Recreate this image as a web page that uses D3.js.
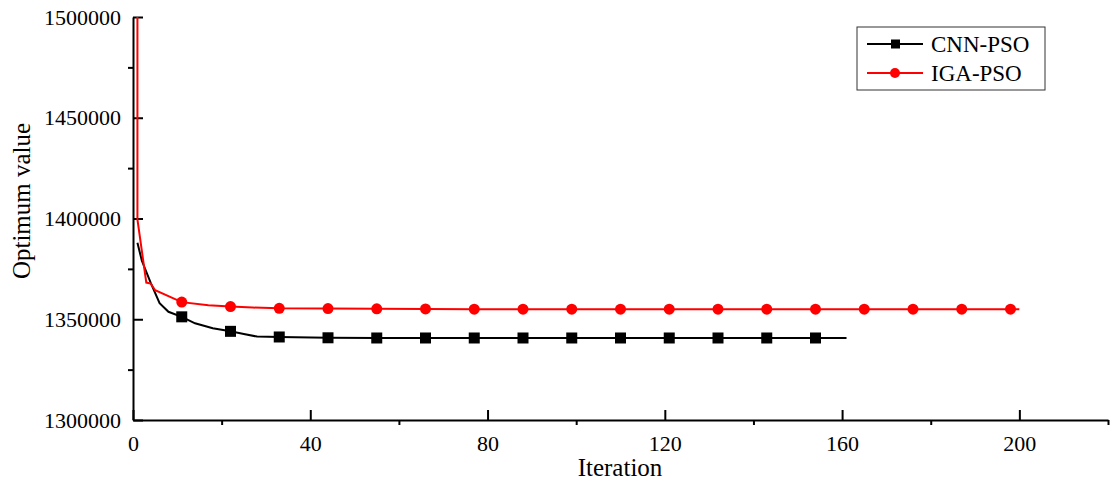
<!DOCTYPE html>
<html>
<head>
<meta charset="utf-8">
<script src="https://cdn.jsdelivr.net/npm/d3@7"></script>
<style>
  body { margin: 0; background: #fff; }
  text { font-family: "Liberation Serif", "Times New Roman", serif; fill: #000; }
</style>
</head>
<body>
<svg width="1111" height="483"></svg>
<script>
const svg = d3.select("svg");

// Curve vertices: [iteration, optimum value]
const cnnPso = [
    [1, 1388000], [2, 1379000], [4, 1368000], [6, 1358000], [8, 1353700],
    [11, 1351200], [14, 1348000], [18, 1345500], [22, 1344000], [25, 1342700],
    [28, 1341400], [33, 1341200], [44, 1340800], [55, 1340700], [66, 1340700],
    [77, 1340700], [88, 1340700], [99, 1340700], [110, 1340700], [121, 1340700],
    [132, 1340700], [143, 1340700], [154, 1340700], [161, 1340700]
];
const igaPso = [
    [1, 1500000], [1, 1399500], [3, 1368200], [4, 1367700], [5, 1364400],
    [11, 1358500], [17, 1357000], [22, 1356300], [27, 1355800], [33, 1355400],
    [44, 1355300], [55, 1355200], [66, 1355100], [77, 1355000], [88, 1355000],
    [99, 1355000], [110, 1355000], [121, 1355000], [132, 1355000], [143, 1355000],
    [154, 1355000], [165, 1355000], [176, 1355000], [187, 1355000], [198, 1355000],
    [200, 1355000]
];
const seriesNames = ["CNN-PSO", "IGA-PSO"];
const seriesColours = ["#000000", "#ff0000"];
const markerEvery = 11;

const xMajor = [0, 40, 80, 120, 160, 200];
const xMinor = [20, 60, 100, 140, 180, 220];
const yMajor = [1300000, 1350000, 1400000, 1450000, 1500000];
const yMinor = [1325000, 1375000, 1425000, 1475000];

const xScale = d3.scaleLinear().domain([0, 220]).range([133, 1108]);
const yScale = d3.scaleLinear().domain([1300000, 1500000]).range([420, 17]);

// Axes: major ticks point inwards, minor ticks outwards
const xAxisMajor = d3.axisBottom(xScale).tickValues(xMajor).tickSizeInner(-10).tickSizeOuter(0).tickPadding(15);
const xAxisMinor = d3.axisBottom(xScale).tickValues(xMinor).tickSize(5).tickFormat("");
const yAxisMajor = d3.axisLeft(yScale).tickValues(yMajor).tickSizeInner(-10).tickSizeOuter(0).tickPadding(12).tickFormat(d3.format("d"));
const yAxisMinor = d3.axisLeft(yScale).tickValues(yMinor).tickSize(5).tickFormat("");

const styleAxis = g => {
    g.selectAll("path, line").attr("stroke", "#000").attr("stroke-width", 2);
    g.selectAll("text").style("font-family", '"Liberation Serif", serif').style("font-size", "22px").attr("fill", "#000");
};

svg.append("g").attr("transform", "translate(0,420)").call(xAxisMinor).call(styleAxis).select(".domain").remove();
svg.append("g").attr("transform", "translate(0,420)").call(xAxisMajor).call(styleAxis);
svg.append("g").attr("transform", "translate(133,0)").call(yAxisMinor).call(styleAxis).select(".domain").remove();
svg.append("g").attr("transform", "translate(133,0)").call(yAxisMajor).call(styleAxis);

// Axis titles
svg.append("text")
    .attr("x", 620).attr("y", 476)
    .attr("text-anchor", "middle")
    .style("font-size", "25px")
    .text("Iteration");

svg.append("text")
    .attr("transform", "translate(30,201) rotate(-90)")
    .attr("text-anchor", "middle")
    .style("font-size", "25px")
    .text("Optimum value");

// Lines and markers
const line = d3.line().x(d => xScale(d[0])).y(d => yScale(d[1]));

const drawMarkers = (g, data, i, size) => {
    if (i === 0) {
        g.selectAll("rect").data(data).enter().append("rect")
            .attr("x", d => xScale(d[0]) - size / 2)
            .attr("y", d => yScale(d[1]) - size / 2)
            .attr("width", size).attr("height", size)
            .attr("fill", seriesColours[i]);
    } else {
        g.selectAll("circle").data(data).enter().append("circle")
            .attr("cx", d => xScale(d[0]))
            .attr("cy", d => yScale(d[1]))
            .attr("r", size / 2)
            .attr("fill", seriesColours[i]);
    }
};

[cnnPso, igaPso].forEach((data, i) => {
    svg.append("path")
        .datum(data)
        .attr("d", line)
        .attr("fill", "none")
        .attr("stroke", seriesColours[i])
        .attr("stroke-width", 2);
    const marked = data.filter(d => d[0] > 0 && d[0] % markerEvery === 0);
    drawMarkers(svg.append("g"), marked, i, 11);
});

// Legend
const legend = svg.append("g");
legend.append("rect")
    .attr("x", 857).attr("y", 27).attr("width", 188).attr("height", 63)
    .attr("fill", "#fff").attr("stroke", "#333").attr("stroke-width", 1);

seriesNames.forEach((name, i) => {
    const y = 44 + i * 29;
    legend.append("line")
        .attr("x1", 867).attr("x2", 923).attr("y1", y).attr("y2", y)
        .attr("stroke", seriesColours[i]).attr("stroke-width", 2);
    if (i === 0) {
        legend.append("rect").attr("x", 891).attr("y", y - 4.5).attr("width", 9).attr("height", 9)
            .attr("fill", seriesColours[i]);
    } else {
        legend.append("circle").attr("cx", 895).attr("cy", y).attr("r", 5)
            .attr("fill", seriesColours[i]);
    }
    legend.append("text")
        .attr("x", 931).attr("y", y + 8)
        .style("font-size", "23px")
        .text(name);
});
</script>
</body>
</html>
